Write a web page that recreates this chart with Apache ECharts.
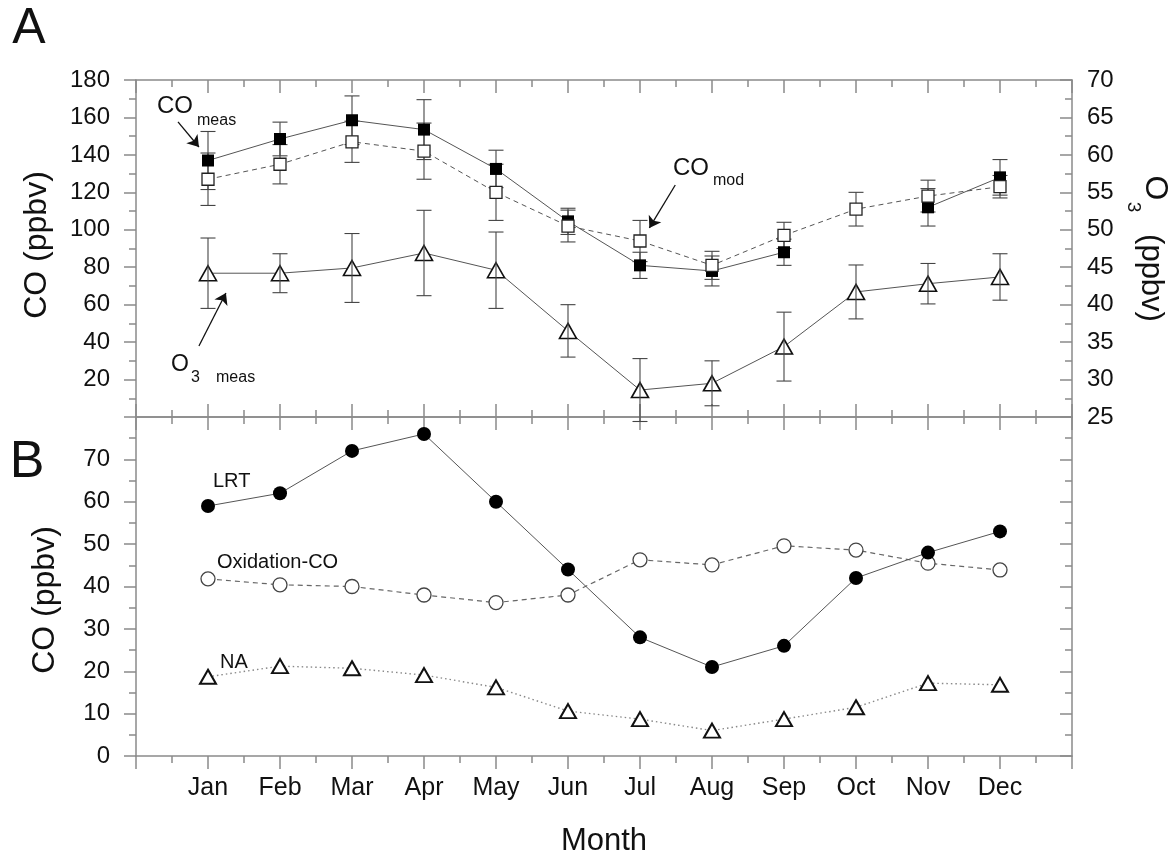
<!DOCTYPE html>
<html>
<head>
<meta charset="utf-8">
<script src="https://cdn.jsdelivr.net/npm/echarts@6/dist/echarts.min.js"></script>
<style>
html,body{margin:0;padding:0;background:#fff;}
#chart{width:1175px;height:858px;}
</style>
</head>
<body>
<div id="chart"></div>
<script>
// ---- data ----
const months = ['Jan','Feb','Mar','Apr','May','Jun','Jul','Aug','Sep','Oct','Nov','Dec'];
// Panel A (CO on left axis, O3 on right axis)
const coMeas    = [137, 148.5, 158.5, 153.5, 132.5, 104.5, 81, 78, 88, null, 112, 128];
const coMeasErr = [15.5, 9, 13, 16, 10, 7, 7, 8, 7, null, 10, 9.5];
const coMod     = [127, 135, 147, 142, 120, 102, 94, 81, 97, 111, 118, 123];
const coModErr  = [14, 10.5, 11, 15, 15, 8.5, 11, 7.5, 7, 9, 8.5, 6];
const o3Meas    = [44.2, 44.2, 44.9, 46.9, 44.6, 36.5, 28.6, 29.5, 34.4, 41.7, 42.8, 43.7];
const o3Err     = [4.7, 2.6, 4.6, 5.7, 5.1, 3.5, 4.2, 3.0, 4.6, 3.6, 2.7, 3.1];
// Panel B
const lrt   = [59, 62, 72, 76, 60, 44, 28, 21, 26, 42, 48, 53];
const oxCO  = [41.8, 40.4, 40, 38, 36.2, 38, 46.3, 45.1, 49.6, 48.6, 45.5, 43.9];
const na    = [18.7, 21.2, 20.7, 19.1, 16.2, 10.6, 8.7, 6.0, 8.7, 11.5, 17.2, 16.8];

// ---- helpers ----
const pts = arr => arr.map((v, i) => [i + 1, v == null ? '-' : v]);
const errs = (vals, e) => vals.map((v, i) => v == null ? null : [i + 1, v - e[i], v + e[i]]).filter(d => d);

const FONT = 'Liberation Sans, Arial, sans-serif';
const AX = '#8a8a8a';
const LINE = '#555';

function errRender(params, api) {
  const x = api.value(0), lo = api.value(1), hi = api.value(2);
  const p1 = api.coord([x, hi]), p2 = api.coord([x, lo]);
  const w = 7.5;
  const st = { stroke: '#444', lineWidth: 1.1 };
  return {
    type: 'group',
    children: [
      { type: 'line', shape: { x1: p1[0], y1: p1[1], x2: p2[0], y2: p2[1] }, style: st },
      { type: 'line', shape: { x1: p1[0] - w, y1: p1[1], x2: p1[0] + w, y2: p1[1] }, style: st },
      { type: 'line', shape: { x1: p2[0] - w, y1: p2[1], x2: p2[0] + w, y2: p2[1] }, style: st }
    ]
  };
}

const monthFmt = v => (v >= 1 && v <= 12 && Number.isInteger(v)) ? months[v - 1] : '';

function xAx(gridIndex, position, inside, showLabel) {
  return {
    type: 'value', gridIndex, position, min: 0, max: 13, interval: 1,
    axisLine: { show: true, onZero: false, lineStyle: { color: AX, width: 1.5 } },
    axisTick: { show: true, inside, length: 13, lineStyle: { color: AX, width: 1.5 } },
    minorTick: { show: true, splitNumber: 2, length: 7, lineStyle: { color: AX, width: 1.5 } },
    splitLine: { show: false }, minorSplitLine: { show: false },
    axisLabel: { show: showLabel, formatter: monthFmt, color: '#111', fontSize: 25, fontFamily: FONT, margin: 20 }
  };
}
function yAx(gridIndex, position, min, max, interval, inside, labelOpt) {
  return {
    type: 'value', gridIndex, position, min, max, interval,
    axisLine: { show: true, onZero: false, lineStyle: { color: AX, width: 1.5 } },
    axisTick: { show: true, inside, length: 12, lineStyle: { color: AX, width: 1.5 } },
    minorTick: { show: true, splitNumber: 2, length: 7, lineStyle: { color: AX, width: 1.5 } },
    splitLine: { show: false }, minorSplitLine: { show: false },
    axisLabel: Object.assign({ color: '#111', fontSize: 24, fontFamily: FONT, showMinLabel: true, showMaxLabel: true }, labelOpt)
  };
}

const arrowLine = { color: '#111', width: 1.3, type: 'solid' };
function markArrow(from, to) {
  return {
    silent: true, animation: false, symbol: ['none', 'arrow'], symbolSize: 11,
    lineStyle: arrowLine, label: { show: false },
    data: [[{ coord: from }, { coord: to }]]
  };
}

const option = {
  backgroundColor: '#fff',
  animation: false,
  grid: [
    { left: 136, top: 80, width: 936, height: 337 },
    { left: 136, top: 417, width: 936, height: 339 }
  ],
  xAxis: [
    xAx(0, 'bottom', true, false),
    xAx(0, 'top', true, false),
    xAx(1, 'bottom', false, true),
    xAx(1, 'top', true, false)
  ],
  yAxis: [
    yAx(0, 'left', 0, 180, 20, false, { margin: 26, formatter: v => v === 0 ? '' : String(v) }),
    yAx(0, 'right', 25, 70, 5, true, { margin: 15 }),
    yAx(1, 'left', 0, 80, 10, false, { margin: 26, formatter: v => v === 80 ? '' : String(v) }),
    yAx(1, 'right', 0, 80, 10, true, { show: false })
  ],
  series: [
    // error bars (panel A, CO)
    { type: 'custom', name: 'coMeasErr', xAxisIndex: 0, yAxisIndex: 0, renderItem: errRender,
      encode: { x: 0, y: [1, 2] }, data: errs(coMeas, coMeasErr), z: 1, clip: false },
    { type: 'custom', name: 'coModErr', xAxisIndex: 0, yAxisIndex: 0, renderItem: errRender,
      encode: { x: 0, y: [1, 2] }, data: errs(coMod, coModErr), z: 1, clip: false },
    // CO_meas
    { type: 'line', name: 'CO meas', xAxisIndex: 0, yAxisIndex: 0, data: pts(coMeas), z: 3,
      connectNulls: false, symbol: 'rect', symbolSize: 12,
      lineStyle: { color: LINE, width: 1 },
      itemStyle: { color: '#000', borderColor: '#000', borderWidth: 0 },
      markLine: markArrow([0.583, 157.6], [0.874, 144.2]) },
    // CO_mod
    { type: 'line', name: 'CO mod', xAxisIndex: 0, yAxisIndex: 0, data: pts(coMod), z: 4,
      symbol: 'rect', symbolSize: 12,
      lineStyle: { color: LINE, width: 1, type: [5, 4] },
      itemStyle: { color: '#fff', borderColor: '#222', borderWidth: 1.3 },
      markLine: markArrow([7.49, 123.9], [7.13, 101.0]) },
    // O3 meas
    { type: 'line', name: 'O3 meas', xAxisIndex: 0, yAxisIndex: 1, data: pts(o3Meas), z: 3,
      symbol: 'triangle', symbolSize: [17, 15],
      lineStyle: { color: LINE, width: 1 },
      itemStyle: { color: '#fff', borderColor: '#111', borderWidth: 1.6 },
      markLine: markArrow([0.874, 34.48], [1.249, 41.56]) },
    { type: 'custom', name: 'o3Err', xAxisIndex: 0, yAxisIndex: 1, renderItem: errRender,
      encode: { x: 0, y: [1, 2] }, data: errs(o3Meas, o3Err), z: 5, clip: false },
    // Panel B
    { type: 'line', name: 'NA', xAxisIndex: 2, yAxisIndex: 2, data: pts(na), z: 3,
      symbol: 'triangle', symbolSize: [16, 14],
      lineStyle: { color: '#888', width: 1.4, type: [1.5, 3] },
      itemStyle: { color: '#fff', borderColor: '#111', borderWidth: 2 } },
    { type: 'line', name: 'Oxidation-CO', xAxisIndex: 2, yAxisIndex: 2, data: pts(oxCO), z: 3,
      symbol: 'circle', symbolSize: 14,
      lineStyle: { color: '#666', width: 1.2, type: [5, 4] },
      itemStyle: { color: '#fff', borderColor: '#444', borderWidth: 1.3 } },
    { type: 'line', name: 'LRT', xAxisIndex: 2, yAxisIndex: 2, data: pts(lrt), z: 4,
      symbol: 'circle', symbolSize: 14,
      lineStyle: { color: LINE, width: 1 },
      itemStyle: { color: '#000', borderColor: '#000', borderWidth: 0 } }
  ],
  graphic: [
    { type: 'text', x: 29, y: 29, style: { text: 'A', font: '50px ' + FONT, fill: '#111', align: 'center', verticalAlign: 'middle' } },
    { type: 'text', x: 27, y: 463, style: { text: 'B', font: '52px ' + FONT, fill: '#111', align: 'center', verticalAlign: 'middle' } },
    { type: 'text', x: 37, y: 245, rotation: Math.PI / 2, style: { text: 'CO (ppbv)', font: '32px ' + FONT, fill: '#111', align: 'center', verticalAlign: 'middle' } },
    { type: 'text', x: 45, y: 600, rotation: Math.PI / 2, style: { text: 'CO (ppbv)', font: '32px ' + FONT, fill: '#111', align: 'center', verticalAlign: 'middle' } },
    { type: 'text', x: 1155, y: 188, rotation: -Math.PI / 2, style: { text: 'O', font: '32px ' + FONT, fill: '#111', align: 'center', verticalAlign: 'middle' } },
    { type: 'text', x: 1133, y: 207, rotation: -Math.PI / 2, style: { text: '3', font: '19px ' + FONT, fill: '#111', align: 'center', verticalAlign: 'middle' } },
    { type: 'text', x: 1151, y: 278, rotation: -Math.PI / 2, style: { text: '(ppbv)', font: '31px ' + FONT, fill: '#111', align: 'center', verticalAlign: 'middle' } },
    { type: 'text', x: 604, y: 841, style: { text: 'Month', font: '31px ' + FONT, fill: '#111', align: 'center', verticalAlign: 'middle' } },
    // annotations panel A
    { type: 'text', x: 157, y: 106, style: { text: 'CO', font: '24px ' + FONT, fill: '#111', align: 'left', verticalAlign: 'middle' } },
    { type: 'text', x: 197, y: 121, style: { text: 'meas', font: '16px ' + FONT, fill: '#111', align: 'left', verticalAlign: 'middle' } },
    { type: 'text', x: 673, y: 168, style: { text: 'CO', font: '24px ' + FONT, fill: '#111', align: 'left', verticalAlign: 'middle' } },
    { type: 'text', x: 713, y: 181, style: { text: 'mod', font: '16px ' + FONT, fill: '#111', align: 'left', verticalAlign: 'middle' } },
    { type: 'text', x: 171, y: 365, style: { text: 'O', font: '23px ' + FONT, fill: '#111', align: 'left', verticalAlign: 'middle' } },
    { type: 'text', x: 191, y: 378, style: { text: '3', font: '16px ' + FONT, fill: '#111', align: 'left', verticalAlign: 'middle' } },
    { type: 'text', x: 216, y: 378, style: { text: 'meas', font: '16px ' + FONT, fill: '#111', align: 'left', verticalAlign: 'middle' } },
    // annotations panel B
    { type: 'text', x: 213, y: 481, style: { text: 'LRT', font: '20px ' + FONT, fill: '#111', align: 'left', verticalAlign: 'middle' } },
    { type: 'text', x: 217, y: 562, style: { text: 'Oxidation-CO', font: '20px ' + FONT, fill: '#111', align: 'left', verticalAlign: 'middle' } },
    { type: 'text', x: 220, y: 662, style: { text: 'NA', font: '20px ' + FONT, fill: '#111', align: 'left', verticalAlign: 'middle' } }
  ]
};

const chart = echarts.init(document.getElementById('chart'), null, { renderer: 'canvas' });
chart.setOption(option);
</script>
</body>
</html>
